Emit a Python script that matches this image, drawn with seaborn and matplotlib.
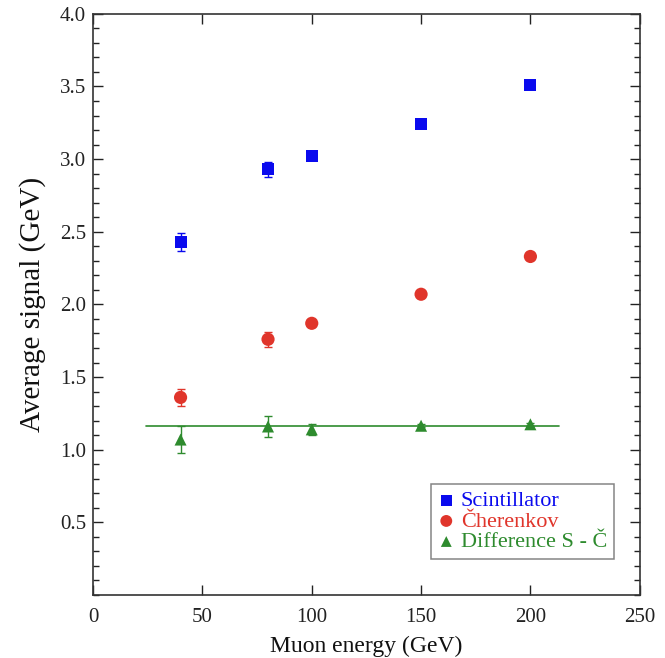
import matplotlib
matplotlib.use("Agg")
import matplotlib.pyplot as plt
import seaborn as sns
import pandas as pd
from matplotlib.ticker import MultipleLocator

energy = [40, 80, 100, 150, 200]
scint = [2.43, 2.93, 3.02, 3.24, 3.51]
scint_err = [0.06, 0.05, 0.02, 0.02, 0.02]
cher = [1.36, 1.76, 1.87, 2.07, 2.33]
cher_err = [0.06, 0.05, 0.02, 0.02, 0.02]
diff = [1.07, 1.16, 1.14, 1.165, 1.175]
diff_err = [0.09, 0.07, 0.04, 0.01, 0.01]
fit_x = [24, 213]
fit_y = [1.165, 1.165]

labels = ["Scintillator", "Čherenkov", "Difference S - Č"]
colors = ["#0a0aee", "#e0352b", "#2e8b2e"]
markers = ["s", "o", "^"]

sns.set_style("ticks")
plt.rcParams["font.family"] = ["Liberation Serif", "DejaVu Serif"]

fig = plt.figure(figsize=(6.65, 6.58), dpi=100)
ax = fig.add_axes([0.14, 0.0957, 0.822, 0.8833])

sns.lineplot(x=fit_x, y=fit_y, ax=ax, color=colors[2], lw=1.2)

series = [(scint, scint_err), (cher, cher_err), (diff, diff_err)]
for (vals, errs), lab, c, m in zip(series, labels, colors, markers):
    ax.errorbar(energy, vals, yerr=errs, fmt="none", ecolor=c, elinewidth=1,
                capsize=3, capthick=1, zorder=2)
    df = pd.DataFrame({"x": energy, "y": vals})
    sns.scatterplot(data=df, x="x", y="y", ax=ax, marker=m, color=c,
                    s=75 if m != "o" else 90, edgecolor="none", label=lab, zorder=3)

ax.set_xlim(0, 250)
ax.set_ylim(0, 4.0)
ax.xaxis.set_major_locator(MultipleLocator(50))
ax.yaxis.set_minor_locator(MultipleLocator(0.1))
ax.set_yticks([0.5, 1.0, 1.5, 2.0, 2.5, 3.0, 3.5, 4.0])
ax.set_yticklabels(["0.5", "1.0", "1.5", "2.0", "2.5", "3.0", "3.5", "4.0"])
ax.tick_params(which="both", direction="in", top=True, right=True, labelsize=15,
               colors="#222222")
ax.tick_params(axis="x", pad=9)
ax.tick_params(axis="y", pad=5)
ax.tick_params(which="major", length=7, width=1)
ax.tick_params(which="minor", length=4, width=1)
for sp in ax.spines.values():
    sp.set_linewidth(1.2)
    sp.set_color("#333333")
    sp.set_visible(True)

ax.set_xlabel("Muon energy (GeV)", fontsize=17, color="#111111", labelpad=7)
ax.set_ylabel("Average signal (GeV)", fontsize=21, color="#111111", labelpad=10)

leg = ax.legend(loc="lower right", bbox_to_anchor=(0.9525, 0.062), fontsize=16,
                frameon=True, fancybox=False, edgecolor="#666666",
                handletextpad=0.25, borderpad=0.3, labelspacing=0.0,
                handlelength=0.8, markerscale=0.9, borderaxespad=0)
leg.get_frame().set_linewidth(1.1)
for t, c in zip(leg.get_texts(), colors):
    t.set_color(c)

fig.savefig("out.png", dpi=100)
